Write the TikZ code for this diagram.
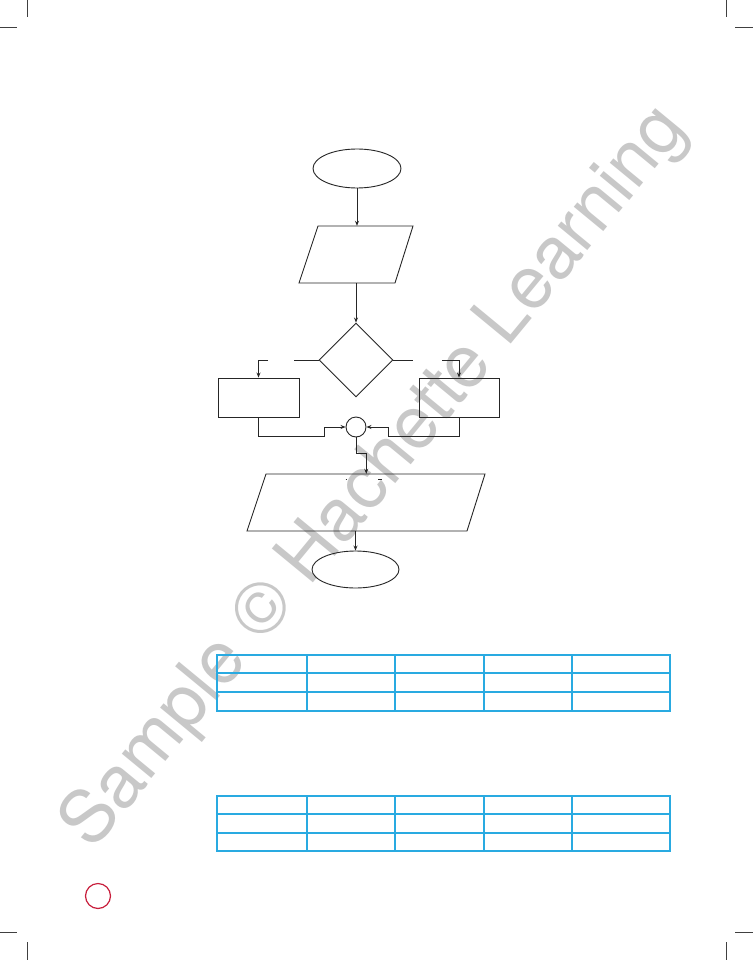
\documentclass[tikz,border=0pt]{standalone}
\usepackage{fontspec}
\setmainfont{TeX Gyre Heros}
\usetikzlibrary{shapes.geometric,arrows.meta,calc}
\definecolor{tblue}{RGB}{41,170,225}
\definecolor{wmark}{RGB}{200,200,200}
\definecolor{pred}{RGB}{200,30,60}
\begin{document}
\begin{tikzpicture}[x=1pt,y=-1pt,
  flow/.style={draw=black!85,line width=0.9pt},
  ellnode/.style={flow,ellipse,inner sep=0pt},
  boxnode/.style={flow,rectangle,inner sep=0pt},
  ghost/.style={rectangle,inner sep=0pt},
  arr/.style={draw=black!85,line width=0.9pt,-{Stealth[length=5pt,width=4pt]}},
  ln/.style={draw=black!85,line width=0.9pt},
  tline/.style={draw=tblue,line width=1.3pt},
  crop/.style={draw=black!75,line width=0.8pt}]
\useasboundingbox (0,0) rectangle (753,960);
\fill[white] (0,0) rectangle (753,960);
% watermark
\node[wmark,rotate=50.5,anchor=base west,inner sep=0pt,font=\fontsize{73}{73}\selectfont] (wm) at (92,852) {Sample © Hachette Learning};
% crop marks
\draw[crop] (27,0) -- (27,17);
\draw[crop] (0,27) -- (17,27);
\draw[crop] (726,0) -- (726,17);
\draw[crop] (735,27) -- (753,27);
\draw[crop] (27,942) -- (27,960);
\draw[crop] (0,932) -- (17,932);
\draw[crop] (726,942) -- (726,960);
\draw[crop] (735,932) -- (753,932);
% page circle
\node[draw=pred,circle,line width=1.2pt,minimum size=25pt,inner sep=0pt] (pg) at (98,896) {};
% flowchart nodes
\node[ellnode,minimum width=88pt,minimum height=39pt] (start) at (357,168.5) {};
\node[ghost,minimum width=76pt,minimum height=57pt] (in1) at (356.25,254.5) {};
\draw[flow] (318,226) -- (413,226) -- (395,283) -- (299,283) -- cycle;
\node[flow,diamond,inner sep=0pt,minimum width=74pt,minimum height=74pt] (dec) at (356,360) {};
\node[boxnode,minimum width=81pt,minimum height=39pt] (L) at (258.5,397.5) {};
\node[boxnode,minimum width=80pt,minimum height=39pt] (R) at (459,397.5) {};
\node[flow,circle,inner sep=0pt,minimum size=20pt] (join) at (356,427) {};
\node[ghost,minimum width=200pt,minimum height=57pt] (out) at (366.25,502.5) {};
\draw[flow] (266,474) -- (485,474) -- (467,531) -- (247,531) -- cycle;
\node[ellnode,minimum width=87pt,minimum height=37pt] (end) at (355.5,569.5) {};
% coordinates
\coordinate (yl1) at (294,360);
\coordinate (yl2) at (268,360);
\coordinate (nr1) at (413,360);
\coordinate (nr2) at (442,360);
\coordinate (lb) at (324,436);
\coordinate (rb) at (388,436);
% connectors
\draw[arr] (start.south) -- (start.south |- in1.north);
\draw[arr] (dec.north |- in1.south) -- (dec.north);
\draw[ln] (dec.west) -- (yl1);
\draw[arr] (yl2) -| (L.north);
\draw[ln] (dec.east) -- (nr1);
\draw[arr] (nr2) -| (R.north);
\draw[arr] (L.south) |- (lb) |- (join.west);
\draw[arr] (R.south) |- (rb) |- (join.east);
\draw[arr] (join.south) -- ++(0,16) -| (out.north);
\draw[arr] (end.north |- out.south) -- (end.north);
% tiny marks in output box
\draw[line width=0.6pt,black!85] (345.5,479) -- (346.5,479);
\draw[line width=0.8pt,black!85] (378,479) -- (382,479);
% tables
\foreach \y/\yy in {655/711, 796/851} {
  \draw[tline] (217,\y) rectangle (670,\yy);
}
\foreach \x in {307,395,484,572} {
  \draw[tline] (\x,655) -- (\x,711);
  \draw[tline] (\x,796) -- (\x,851);
}
\foreach \y in {673,692,814,833} {
  \draw[tline] (217,\y) -- (670,\y);
}
\end{tikzpicture}
\end{document}
